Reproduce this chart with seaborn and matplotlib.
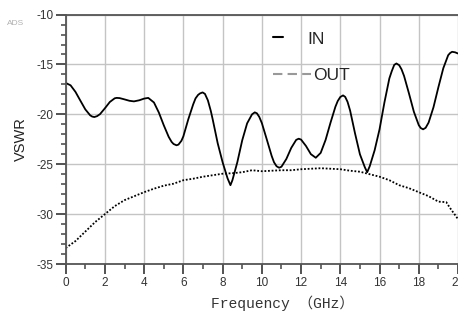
"""
plot.py - VSWR of the IN and OUT ports against frequency.

Writes out.png (458x311 px).
"""
import matplotlib
matplotlib.use("Agg")

import matplotlib.pyplot as plt
import pandas as pd
import seaborn as sns
from matplotlib.lines import Line2D
from matplotlib.ticker import MultipleLocator

# IN port (GHz, dB)
in_freq = [0, 0.25, 0.5, 0.75, 1.0, 1.25, 1.35, 1.46, 1.6, 1.75, 2.0, 2.25,
           2.5, 2.6, 2.75, 3.0, 3.25, 3.48, 3.75, 4.0, 4.21, 4.5, 4.75, 5.0,
           5.25, 5.4, 5.5, 5.65, 5.75, 5.9, 6.0, 6.25, 6.5, 6.62, 6.75, 6.85,
           6.98, 7.1, 7.25, 7.4, 7.5, 7.75, 8.0, 8.25, 8.4, 8.5, 8.75, 9.0,
           9.25, 9.5, 9.64, 9.75, 9.87, 10.0, 10.25, 10.5, 10.62, 10.75, 10.88,
           11.0, 11.25, 11.5, 11.75, 11.88, 12.0, 12.25, 12.5, 12.75, 13.0,
           13.25, 13.5, 13.75, 13.87, 14.0, 14.14, 14.25, 14.37, 14.5, 14.75,
           15.0, 15.25, 15.37, 15.5, 15.75, 16.0, 16.25, 16.5, 16.62, 16.75,
           16.86, 17.0, 17.12, 17.25, 17.5, 17.75, 18.0, 18.1, 18.22, 18.35,
           18.5, 18.75, 19.0, 19.25, 19.5, 19.6, 19.7, 19.85, 20.0]
in_vswr = [-16.85, -17.09, -17.75, -18.63, -19.50, -20.10, -20.22, -20.27,
           -20.18, -19.98, -19.39, -18.76, -18.39, -18.35, -18.37, -18.50,
           -18.64, -18.70, -18.59, -18.42, -18.35, -18.81, -19.82, -21.09,
           -22.25, -22.76, -22.97, -23.10, -23.03, -22.65, -22.2, -20.5,
           -19.0, -18.4, -18.05, -17.9, -17.8, -17.95, -18.6, -19.67, -20.55,
           -22.9, -24.8, -26.4, -27.1, -26.6, -24.8, -22.6, -20.9, -20.0,
           -19.8, -19.9, -20.26, -20.87, -22.5, -24.16, -24.8, -25.2, -25.35,
           -25.25, -24.47, -23.36, -22.56, -22.44, -22.53, -23.17, -23.99,
           -24.35, -23.86, -22.56, -20.84, -19.24, -18.66, -18.26, -18.1,
           -18.25, -18.75, -19.62, -21.9, -24.0, -25.3, -25.8, -25.2, -23.6,
           -21.5, -18.8, -16.4, -15.69, -15.04, -14.9, -15.07, -15.48, -16.15,
           -17.9, -19.74, -21.08, -21.37, -21.5, -21.35, -20.83, -19.29,
           -17.28, -15.38, -14.07, -13.85, -13.73, -13.78, -13.9]

# OUT port
out_freq = [0, 0.5, 1.0, 1.5, 2.0, 2.5, 3.0, 3.5, 4.0, 4.5, 5.0, 5.5, 6.0,
            6.5, 7.0, 7.5, 8.0, 8.5, 9.0, 9.5, 10.0, 10.5, 11.0, 11.5, 12.0,
            12.5, 13.0, 13.5, 14.0, 14.5, 15.0, 15.5, 16.0, 16.5, 17.0, 17.5,
            18.0, 18.5, 19.0, 19.4, 19.6, 20.0]
out_vswr = [-33.4, -32.7, -31.75, -30.8, -30.0, -29.2, -28.6, -28.2, -27.8,
            -27.45, -27.15, -26.95, -26.6, -26.45, -26.25, -26.1, -25.95,
            -25.9, -25.8, -25.6, -25.7, -25.65, -25.6, -25.6, -25.5, -25.45,
            -25.4, -25.45, -25.5, -25.65, -25.75, -26.0, -26.25, -26.6, -27.1,
            -27.4, -27.8, -28.2, -28.75, -28.8, -29.4, -30.5]

x_ticks = list(range(0, 21, 2))
y_ticks = [-35, -30, -25, -20, -15, -10]

sns.set_style("white")
plt.rcParams["font.family"] = ["Liberation Sans", "DejaVu Sans"]
plt.rcParams["axes.unicode_minus"] = False

df_in = pd.DataFrame({"freq": in_freq, "vswr": in_vswr})
df_out = pd.DataFrame({"freq": out_freq, "vswr": out_vswr})

fig = plt.figure(figsize=(4.58, 3.11), dpi=100)
ax = fig.add_axes([0.1434, 0.1511, 0.8566, 0.802])

sns.lineplot(data=df_in, x="freq", y="vswr", ax=ax, color="black",
             linewidth=1.3, estimator=None, sort=False)
sns.lineplot(data=df_out, x="freq", y="vswr", ax=ax, color="black",
             linewidth=1.3, linestyle=(0, (1, 1)), estimator=None, sort=False)

ax.set_xlim(0, 20)
ax.set_ylim(-35, -10)
ax.set_xticks(x_ticks)
ax.set_yticks(y_ticks)
ax.xaxis.set_minor_locator(MultipleLocator(1))
ax.yaxis.set_minor_locator(MultipleLocator(1))
ax.grid(True, which="major", color="#c4c4c4", linewidth=1.0)
ax.set_axisbelow(True)

ax.tick_params(which="major", direction="out", length=7, width=1.3,
               color="#444444", labelsize=8.5, labelcolor="#333333", pad=2)
ax.tick_params(which="minor", direction="out", length=3.5, width=1.1,
               color="#444444")
ax.tick_params(left=True, bottom=True, which="both")

for side in ["left", "bottom", "top"]:
    ax.spines[side].set_color("#555555")
    ax.spines[side].set_linewidth(1.3)
ax.spines["right"].set_visible(False)

ax.set_ylabel("VSWR", fontsize=10.5, color="#222222", labelpad=6)
ax.set_xlabel("Frequency （GHz）", fontsize=10.5, color="#333333",
              family=["Liberation Mono", "Noto Sans CJK SC"])
ax.xaxis.set_label_coords(0.553, -0.128)

# legend drawn as two pieces, like the reference
leg_in = ax.legend(handles=[Line2D([], [], color="black", linewidth=1.5)],
                   labels=["IN"], loc="center left", frameon=False,
                   bbox_to_anchor=(0.596, 0.8746), bbox_transform=fig.transFigure,
                   handlelength=0.6, handletextpad=1.4, borderpad=0,
                   borderaxespad=0, fontsize=12.5)
ax.add_artist(leg_in)
ax.legend(handles=[Line2D([], [], color="#999999", linewidth=1.5,
                          linestyle=(0, (4.5, 2.5)))],
          labels=["OUT"], loc="center left", frameon=False,
          bbox_to_anchor=(0.596, 0.757), bbox_transform=fig.transFigure,
          handlelength=2.2, handletextpad=0.1, borderpad=0,
          borderaxespad=0, fontsize=12.5)

fig.text(0.015, 0.923, "ADS", fontsize=6, color="#b0b0b0", va="center")

fig.savefig("out.png", dpi=100)
plt.close(fig)
